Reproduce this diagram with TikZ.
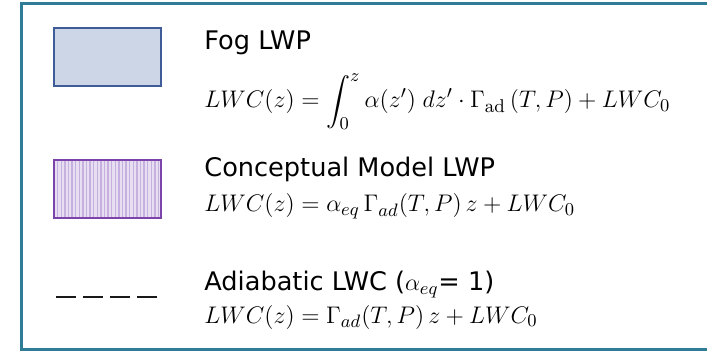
\documentclass[tikz,border=0pt]{standalone}
\usepackage{fontspec}
\usepackage{amsmath}
\usepackage{xcolor}
\usetikzlibrary{patterns.meta}
\newfontfamily\legendfont{DejaVu Sans}

\definecolor{framecol}{RGB}{46,124,150}
\definecolor{fogfill}{RGB}{204,214,230}
\definecolor{fogedge}{RGB}{62,92,152}
\definecolor{modelfill}{RGB}{232,222,242}
\definecolor{modelline}{RGB}{198,176,224}
\definecolor{modeledge}{RGB}{122,68,170}

\begin{document}
\begin{tikzpicture}[
        x=0.5pt, y=-0.5pt,
        swatch/.style={draw, line width=1pt, minimum width=53.5pt, minimum height=29pt, inner sep=0pt},
        title/.style={anchor=base west, inner sep=0pt, font=\legendfont\fontsize{12.8}{15}\selectfont},
        eqn/.style={anchor=base west, inner sep=0pt, font=\fontsize{13.2}{15}\selectfont},
        adialine/.style={line width=1.3pt, black!90, dash pattern=on 10pt off 3.5pt}
    ]
        \useasboundingbox (0,0) rectangle (707,352);
        \clip (0,0) rectangle (707,352);
        \draw[framecol, line width=1.5pt] (21,4) rectangle (740,350);

        % legend keys
        \node[swatch, draw=fogedge, fill=fogfill] (fogbox) at (107.5,57) {};
        \node[swatch, draw=modeledge, preaction={fill=modelfill},
              pattern={Lines[angle=90, distance=1.8pt, line width=0.7pt]},
              pattern color=modelline] (modelbox) at (107.5,189) {};
        \coordinate (adiaW) at (56,297);
        \coordinate (adiaE) at (158,297);
        \draw[adialine] (adiaW) -- (adiaE);

        % labels and formulas
        \node[title] (fogtitle) at (204,50) {Fog LWP};
        \node[eqn] (fogeqn) at (204,108)
            {$LWC(z) = \displaystyle\int_0^z \alpha(z')\;dz' \cdot \Gamma_{\mathrm{ad}}\,(T,P) + LWC_0$};

        \node[title] (modeltitle) at (204,177) {Conceptual Model LWP};
        \node[eqn] (modeleqn) at (204,212)
            {$LWC(z) = \alpha_{eq}\,\Gamma_{ad}(T,P)\,z + LWC_0$};

        \node[title] (adiatitle) at (204,291) {Adiabatic LWC ($\alpha_{eq}$= 1)};
        \node[eqn] (adiaeqn) at (204,323)
            {$LWC(z) = \Gamma_{ad}(T,P)\,z + LWC_0$};
    \end{tikzpicture}
\end{document}
